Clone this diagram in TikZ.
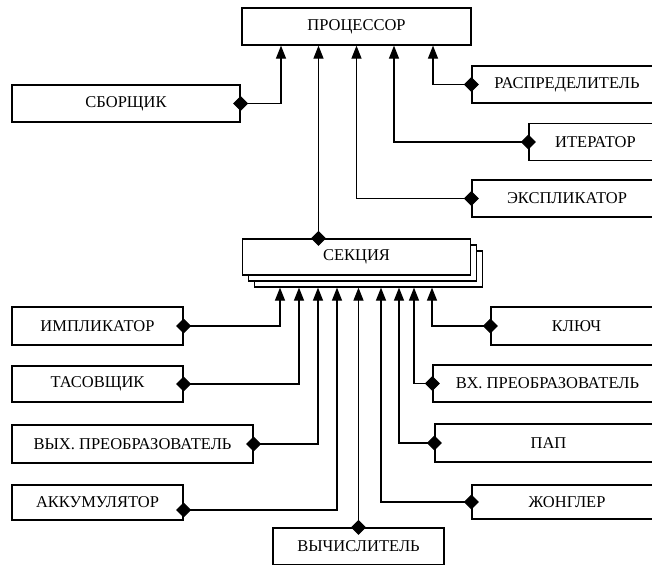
\documentclass[tikz,border=0pt]{standalone}
\usepackage{fontspec}
\setmainfont{Liberation Serif}
\usepackage{tikz}
\usetikzlibrary{arrows.meta}
\tikzset{
  unit/.style={rectangle, draw=black, line width=1.2pt, fill=white,
               inner sep=0pt, minimum height=37pt,
               font=\fontsize{16.5pt}{19pt}\selectfont, text centered},
  link/.style={{Diamond[length=15pt,width=15pt]}-{Triangle[length=13pt,width=10pt]},
               line width=1.1pt, black, shorten <=-7.5pt},
}
\begin{document}
\begin{tikzpicture}[x=1pt, y=-1pt]

%% Page frame (right boxes run past the edge)
\clip (0,0) rectangle (652,564);

%% Top unit
\node[unit, minimum width=229pt] (proc) at (356.5,26.5) {ПРОЦЕССОР};

%% Units feeding the processor
\node[unit, minimum width=228pt] (sbor)  at (126,103.5) {СБОРЩИК};
\node[unit, minimum width=190pt] (raspr) at (567,84.5)  {РАСПРЕДЕЛИТЕЛЬ};
\node[unit, minimum width=133pt] (iter)  at (595.5,142) {ИТЕРАТОР};
\node[unit, minimum width=190pt] (expl)  at (567,198.5) {ЭКСПЛИКАТОР};

%% Section, drawn as a stack of three sheets
\node[unit, minimum width=228pt, minimum height=36pt] (sekcC) at (368.5,269) {};
\node[unit, minimum width=228pt, minimum height=36pt] (sekcB) at (362.5,263) {};
\node[unit, minimum width=228pt, minimum height=36pt] (sekc)  at (356.5,257) {СЕКЦИЯ};

%% Units feeding the section, left column
\node[unit, minimum width=171pt, minimum height=38pt] (impl)  at (97.5,326)  {ИМПЛИКАТОР};
\node[unit, minimum width=171pt, minimum height=36pt] (tasov) at (97.5,384)  {ТАСОВЩИК};
\node[unit, minimum width=241pt, minimum height=38pt] (vyhpr) at (132.5,444) {ВЫХ. ПРЕОБРАЗОВАТЕЛЬ};
\node[unit, minimum width=171pt, minimum height=35pt] (akkum) at (97.5,502.5) {АККУМУЛЯТОР};
\node[unit, minimum width=171pt] (vych) at (358.5,546.5) {ВЫЧИСЛИТЕЛЬ};

%% Units feeding the section, right column
\node[unit, minimum width=171pt, minimum height=38pt] (klyuch) at (576.5,326)  {КЛЮЧ};
\node[unit, minimum width=229pt] (vxpr)   at (547.5,383.5) {ВХ. ПРЕОБРАЗОВАТЕЛЬ};
\node[unit, minimum width=227pt, minimum height=38pt] (pap)    at (548.5,443)  {ПАП};
\node[unit, minimum width=190pt, minimum height=34pt] (zhongl) at (567,502)    {ЖОНГЛЕР};

%% Links into the processor
\draw[link] (sbor.east)  -| ([xshift=-75.5pt]proc.south);
\draw[link] ([xshift=-38pt]sekc.north) -- ([xshift=-38pt]proc.south);
\draw[link] (expl.west)  -| (proc.south);
\draw[link] (iter.west)  -| ([xshift=37.5pt]proc.south);
\draw[link] (raspr.west) -| ([xshift=76.5pt]proc.south);

%% Links into the section
\draw[link] (impl.east)  -| ([xshift=-88.5pt]sekcC.south);
\draw[link] (tasov.east) -| ([xshift=-69.5pt]sekcC.south);
\draw[link] (vyhpr.east) -| ([xshift=-50.5pt]sekcC.south);
\draw[link] ([yshift=-7.5pt]akkum.east) -| ([xshift=-31.5pt]sekcC.south);
\draw[link] (vych.north) -- (vych.north |- sekcC.south);
\draw[link] (zhongl.west) -| ([xshift=12.5pt]sekcC.south);
\draw[link] (pap.west)    -| ([xshift=30.5pt]sekcC.south);
\draw[link] (vxpr.west)   -| ([xshift=45.5pt]sekcC.south);
\draw[link] (klyuch.west) -| ([xshift=63.5pt]sekcC.south);

\end{tikzpicture}
\end{document}
